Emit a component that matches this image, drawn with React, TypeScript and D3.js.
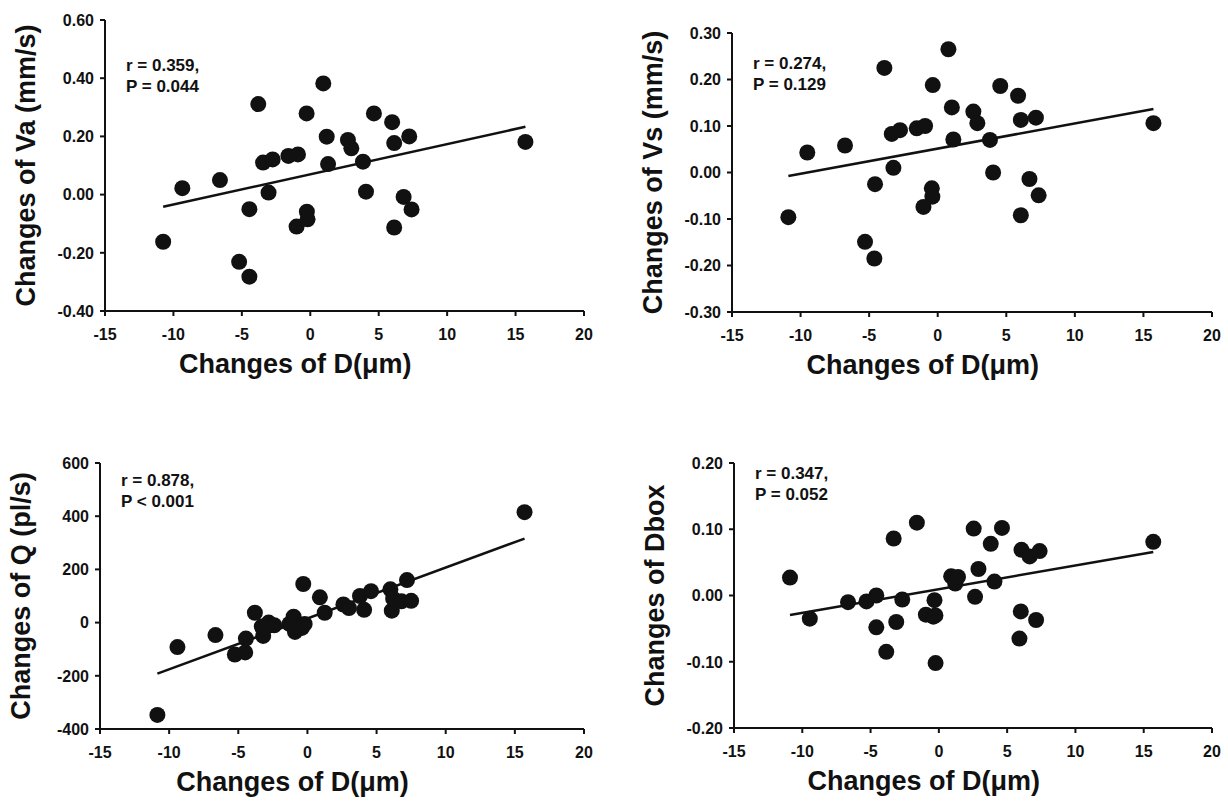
import * as d3 from "d3";

const X_TICKS = [-15, -10, -5, 0, 5, 10, 15, 20];

// Va panel
const dVa = [-10.75, -9.35, -6.6, -5.2, -4.45, -4.45, -3.8, -3.05, -3.45, -2.75, -1.6, -0.9, -1.0, -0.25, -0.2, -0.27, 0.95, 1.2, 1.3, 2.75, 3.0, 3.85, 4.07, 4.65, 5.98, 6.13, 6.13, 6.82, 7.23, 7.4, 15.72];
const va = [-0.162, 0.022, 0.05, -0.231, -0.282, -0.05, 0.311, 0.007, 0.11, 0.121, 0.133, 0.138, -0.11, -0.059, -0.085, 0.279, 0.382, 0.199, 0.105, 0.188, 0.159, 0.113, 0.01, 0.279, 0.249, 0.177, -0.113, -0.008, 0.2, -0.051, 0.181];

// Vs panel
const dVs = [-10.89, -9.51, -6.76, -5.3, -4.62, -4.57, -3.89, -3.23, -3.35, -2.75, -1.53, -0.92, -1.04, -0.43, -0.39, -0.36, 0.78, 1.03, 1.14, 2.6, 2.89, 3.81, 4.04, 4.56, 5.86, 6.06, 6.06, 6.69, 7.16, 7.36, 15.73];
const vs = [-0.096, 0.043, 0.058, -0.149, -0.185, -0.025, 0.225, 0.01, 0.083, 0.091, 0.095, 0.1, -0.074, -0.034, -0.052, 0.188, 0.265, 0.14, 0.071, 0.131, 0.106, 0.07, 0.0, 0.186, 0.165, 0.113, -0.092, -0.014, 0.118, -0.049, 0.106];

// Q panel
const dQ = [-10.85, -9.4, -6.65, -5.25, -4.5, -4.45, -3.8, -3.2, -3.3, -2.8, -2.4, -1.3, -1.0, -0.9, -0.4, -0.3, -0.2, 0.9, 1.25, 2.6, 3.0, 3.8, 4.1, 4.6, 6.0, 6.1, 6.2, 6.8, 7.2, 7.5, 15.7];
const q = [-347, -92, -47, -120, -112, -60, 37, -50, -15, 0, -10, -5, 22, -35, -20, 145, -5, 95, 37, 68, 55, 100, 48, 118, 125, 45, 90, 80, 160, 82, 415];

// Dbox panel
const dDbox = [-10.9, -9.45, -6.65, -5.3, -4.58, -4.58, -3.85, -3.31, -3.12, -2.68, -1.61, -0.95, -0.4, -0.32, -0.25, -0.24, 0.9, 1.2, 1.4, 2.55, 2.65, 2.9, 3.8, 4.07, 4.62, 6.0, 5.9, 6.05, 6.65, 7.12, 7.38, 15.7];
const dbox = [0.027, -0.035, -0.01, -0.009, 0.0, -0.048, -0.085, 0.086, -0.04, -0.006, 0.11, -0.029, -0.032, -0.007, -0.03, -0.102, 0.029, 0.018, 0.028, 0.101, -0.002, 0.04, 0.078, 0.021, 0.102, -0.024, -0.065, 0.069, 0.059, -0.037, 0.067, 0.081];

// regression lines [slope, intercept]
const fitVa = [0.01038, 0.0699];
const fitVs = [0.00541, 0.0514];
const fitQ = [19.13, 15.6];
const fitDbox = [0.00358, 0.0096];

const ticksVa = [-0.4, -0.2, 0, 0.2, 0.4, 0.6];
const ticksVs = [-0.3, -0.2, -0.1, 0, 0.1, 0.2, 0.3];
const ticksQ = [-400, -200, 0, 200, 400, 600];
const ticksDbox = [-0.2, -0.1, 0, 0.1, 0.2];

const FONT = "'Liberation Sans', Arial, Helvetica, sans-serif";

type Box = { left: number; right: number; top: number; bottom: number };

type PanelProps = {
  box: Box;
  xs: number[];
  ys: number[];
  yTicks: number[];
  digits: number;
  yTitle: string;
  fit: number[];
  note: string[];
  noteTop: number;
};

const Panel = ({ box, xs, ys, yTicks, digits, yTitle, fit, note, noteTop }: PanelProps) => {
  const x = d3.scaleLinear().domain([-15, 20]).range([box.left, box.right]);
  const y = d3
    .scaleLinear()
    .domain([yTicks[0], yTicks[yTicks.length - 1]])
    .range([box.bottom, box.top]);

  const [x0, x1] = d3.extent(xs) as [number, number];
  const line = d3
    .line<number>()
    .x((d) => x(d))
    .y((d) => y(fit[0] * d + fit[1]));

  const midY = (box.top + box.bottom) / 2;

  return (
    <g fontFamily={FONT} fontWeight="bold" fill="#111">
      {/* axes */}
      <line x1={box.left} x2={box.left} y1={box.top} y2={box.bottom} stroke="#111" strokeWidth={2} />
      <line x1={box.left} x2={box.right} y1={box.bottom} y2={box.bottom} stroke="#111" strokeWidth={2} />
      {yTicks.map((t) => (
        <g key={"y" + t}>
          <line x1={box.left - 5} x2={box.left} y1={y(t)} y2={y(t)} stroke="#111" strokeWidth={2} />
          <text x={box.left - 11} y={y(t)} dy="0.36em" textAnchor="end" fontSize={16}>
            {t.toFixed(digits)}
          </text>
        </g>
      ))}
      {X_TICKS.map((t) => (
        <g key={"x" + t}>
          <line x1={x(t)} x2={x(t)} y1={box.bottom} y2={box.bottom + 5} stroke="#111" strokeWidth={2} />
          <text x={x(t)} y={box.bottom + 23} dy="0.36em" textAnchor="middle" fontSize={16}>
            {t}
          </text>
        </g>
      ))}
      <text x={x(0) - 15} y={box.bottom + 52} dy="0.36em" textAnchor="middle" fontSize={27}>
        Changes of D(μm)
      </text>
      <text
        transform={`translate(${box.left - 80},${midY}) rotate(-90)`}
        dy="0.36em"
        textAnchor="middle"
        fontSize={27}
      >
        {yTitle}
      </text>

      {xs.map((d, i) => (
        <circle key={i} cx={x(d)} cy={y(ys[i])} r={8} fill="#111" />
      ))}
      <path d={line([x0, x1]) || ""} stroke="#111" strokeWidth={2.5} fill="none" />

      {note.map((s, i) => (
        <text key={i} x={box.left + 21} y={noteTop + i * 21} dy="0.36em" fontSize={17}>
          {s}
        </text>
      ))}
    </g>
  );
};

export default function App() {
  return (
    <svg
      width={1228}
      height={802}
      style={{ position: "absolute", left: 0, top: 0, background: "#fff" }}
    >
      <rect width={1228} height={802} fill="#fff" />
      <Panel
        box={{ left: 105, right: 584, top: 20, bottom: 311 }}
        xs={dVa}
        ys={va}
        yTicks={ticksVa}
        digits={2}
        yTitle="Changes of Va (mm/s)"
        fit={fitVa}
        note={["r = 0.359,", "P = 0.044"]}
        noteTop={65}
      />
      <Panel
        box={{ left: 732, right: 1212, top: 33, bottom: 312 }}
        xs={dVs}
        ys={vs}
        yTicks={ticksVs}
        digits={2}
        yTitle="Changes of Vs (mm/s)"
        fit={fitVs}
        note={["r = 0.274,", "P = 0.129"]}
        noteTop={63}
      />
      <Panel
        box={{ left: 100, right: 584, top: 463, bottom: 729 }}
        xs={dQ}
        ys={q}
        yTicks={ticksQ}
        digits={0}
        yTitle="Changes of Q (pl/s)"
        fit={fitQ}
        note={["r = 0.878,", "P < 0.001"]}
        noteTop={480}
      />
      <Panel
        box={{ left: 734, right: 1212, top: 463, bottom: 728 }}
        xs={dDbox}
        ys={dbox}
        yTicks={ticksDbox}
        digits={2}
        yTitle="Changes of Dbox"
        fit={fitDbox}
        note={["r = 0.347,", "P = 0.052"]}
        noteTop={473}
      />
    </svg>
  );
}
